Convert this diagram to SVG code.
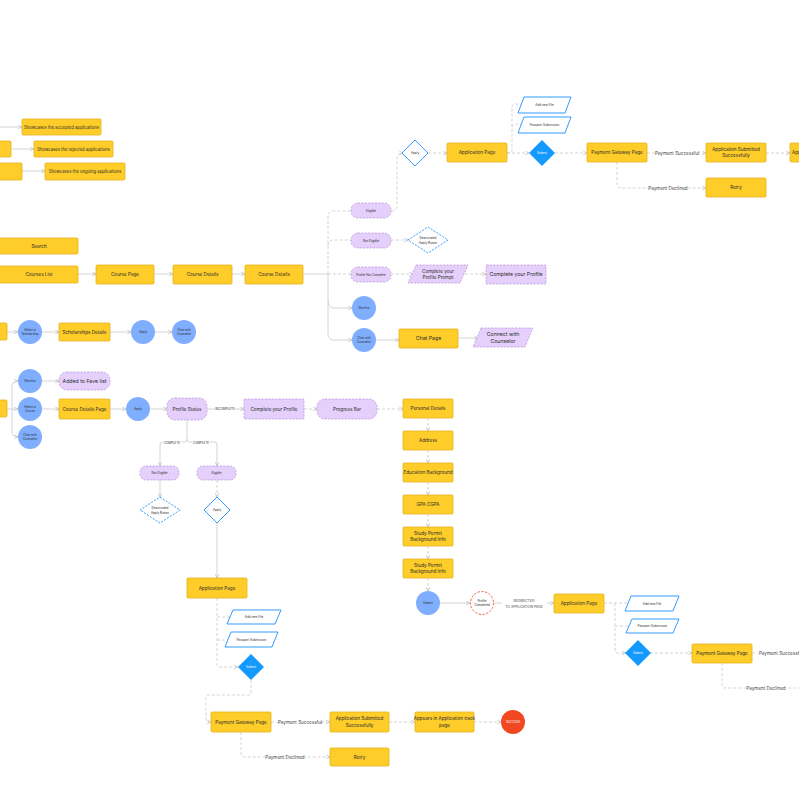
<svg xmlns="http://www.w3.org/2000/svg" width="799" height="799" viewBox="0 0 799 799">
<style>
text{font-family:Inter,"Liberation Sans",sans-serif;fill:#2b2b2b;text-anchor:middle}
.t{font-size:4.6px}
.tm{font-size:4.2px}
.tl{font-size:5.2px}
.ts{font-size:3px}
.tw{fill:#fff}
.lab{font-size:4.6px;fill:#444}
.lab2{font-size:3.4px;fill:#444}
.y{fill:#FFCD29;stroke:#E3B21F;stroke-width:0.8}
.p{fill:#E4D0FA;stroke:#B48CD9;stroke-width:0.7;stroke-dasharray:2 1.4}
.c{fill:#80AEFF}
.bo{fill:#fff;stroke:#1E90FF;stroke-width:0.9}
.bd{fill:#fff;stroke:#1E90FF;stroke-width:0.9;stroke-dasharray:2 1.4}
.bf{fill:#1499FF}
.l{fill:none;stroke:#CFCFCF;stroke-width:0.9}
.d{stroke-dasharray:3 2}
.a{marker-end:url(#ar)}
.bg{fill:#fff}
</style>
<defs>
<marker id="ar" viewBox="0 0 6 6" refX="5.5" refY="3" markerWidth="5" markerHeight="5" orient="auto" markerUnits="userSpaceOnUse">
<path d="M1 0.8 L5.5 3 L1 5.2" fill="none" stroke="#BDBDBD" stroke-width="0.9"/>
</marker>
</defs>
<rect width="799" height="799" fill="#fff"/>

<g id="connectors">
<path class="l a" d="M0 127 H22"/>
<path class="l a" d="M11 149 H34"/>
<path class="l a" d="M22 171 H45"/>
<path class="l a" d="M78 274 H96"/>
<path class="l a" d="M154 274 H173"/>
<path class="l a" d="M232 274 H245"/>
<path class="l" d="M303 274 H328"/>
<path class="l a" d="M328 274 V334 q0 6 6 6 H352"/>
<path class="l a" d="M328 300 q0 8 6 8 H352"/>
<path class="l d" d="M328 274 V217 q0 -6 6 -6 H351"/>
<path class="l d" d="M328 246 q0 -6 6 -6 H351"/>
<path class="l d" d="M328 274 H351"/>
<path class="l d a" d="M391 211 q6 0 6 -6 V159 q0 -6 6 -6"/>
<path class="l d a" d="M391 240 H408"/>
<path class="l d a" d="M391 274 H413"/>
<path class="l d a" d="M465 274 H486"/>
<path class="l a" d="M376 340 H399"/>
<path class="l a" d="M458 338 H478"/>

<path class="l d a" d="M428 153 H447"/>
<path class="l d" d="M507 153 H509 q3 0 3 -3 V107 q0 -3 3 -3 H521"/>
<path class="l d" d="M512 127 q0 -3 3 -3 H521"/>
<path class="l d a" d="M507 153 H529"/>
<path class="l d a" d="M555 153 H587"/>
<path class="l d a" d="M647 153 H706"/>
<path class="l d a" d="M766 153 H790"/>
<path class="l d a" d="M617 162 V184 q0 4 4 4 H706"/>

<path class="l a" d="M7 332 H18"/>
<path class="l a" d="M42 332 H59"/>
<path class="l a" d="M110 332 H131"/>
<path class="l a" d="M155 332 H172"/>

<path class="l a" d="M7 409 H18"/>
<path class="l a" d="M12 409 V387 q0 -6 6 -6"/>
<path class="l a" d="M12 409 V431 q0 6 6 6"/>
<path class="l a" d="M42 381 H59"/>
<path class="l a" d="M42 409 H59"/>
<path class="l a" d="M110 409 H126"/>
<path class="l a" d="M150 409 H167"/>
<path class="l a" d="M207 409 H244"/>
<path class="l d a" d="M304 409 H317"/>
<path class="l d a" d="M377 409 H403"/>
<path class="l d a" d="M428 418 V431"/>
<path class="l d a" d="M428 450 V463"/>
<path class="l d a" d="M428 482 V495"/>
<path class="l d a" d="M428 514 V527"/>
<path class="l d a" d="M428 546 V559"/>
<path class="l d a" d="M428 578 V591"/>
<path class="l a" d="M440 603 H470"/>
<path class="l a" d="M494 603 H554"/>

<path class="l d" d="M604 603 H628"/>
<path class="l d a" d="M615 603 V650 q0 3 3 3 H626"/>
<path class="l d" d="M615 626 H629"/>
<path class="l d a" d="M650 653 H692"/>
<path class="l d" d="M752 653 H799"/>
<path class="l d" d="M722 663 V685 q0 3 3 3 H799"/>

<path class="l" d="M187 420 V439"/>
<path class="l a" d="M187 439 q0 3 -3 3 H163 q-3 0 -3 3 V466"/>
<path class="l a" d="M187 439 q0 3 3 3 H214 q3 0 3 3 V466"/>
<path class="l a" d="M160 480 V497"/>
<path class="l d a" d="M217 480 V497"/>
<path class="l a" d="M217 523 V578"/>
<path class="l d a" d="M217 598 V664 q0 3 3 3 H238"/>
<path class="l d" d="M217 617 H231"/>
<path class="l d" d="M217 640 H229"/>
<path class="l d a" d="M251 680 V692 q0 3 -3 3 H209 q-3 0 -3 3 V719 q0 3 3 3 H211"/>
<path class="l d a" d="M271 722 H330"/>
<path class="l d a" d="M389 722 H415"/>
<path class="l d a" d="M474 722 H501"/>
<path class="l d a" d="M241 732 V753 q0 4 4 4 H330"/>

<rect class="bg" x="656" y="149" width="42" height="8"/>
<text class="lab" x="677" y="154.6">Payment Successful</text>
<rect class="bg" x="649" y="184" width="39" height="8"/>
<text class="lab" x="668" y="189.6">Payment Declined</text>
<rect class="bg" x="215" y="406" width="20" height="6"/>
<text class="ts" x="225" y="410">INCOMPLETE</text>
<rect class="bg" x="163" y="440" width="18" height="5"/>
<text class="ts" x="172" y="443.8">COMPLETE</text>
<rect class="bg" x="192" y="440" width="18" height="5"/>
<text class="ts" x="201" y="443.8">COMPLETE</text>
<rect class="bg" x="502" y="596" width="45" height="13"/>
<text class="lab2" x="524" y="601.5">REDIRECTED</text>
<text class="lab2" x="524" y="607.5">TO APPLICATION PAGE</text>
<rect class="bg" x="758" y="649" width="41" height="8"/>
<text class="lab" x="781" y="654.6">Payment Successful</text>
<rect class="bg" x="746" y="684" width="40" height="8"/>
<text class="lab" x="766" y="689.6">Payment Declined</text>
<rect class="bg" x="279" y="718" width="42" height="8"/>
<text class="lab" x="300" y="723.6">Payment Successful</text>
<rect class="bg" x="265" y="753" width="40" height="8"/>
<text class="lab" x="285" y="758.6">Payment Declined</text>
</g>

<g id="n-accepted"><rect class="y" x="22" y="119" width="79" height="16" rx="1"/><text class="tm" x="61.5" y="128.5">Showcases the accepted applications</text></g>
<g id="n-rejected-src"><rect class="y" x="-20" y="141" width="31" height="16" rx="1"/></g>
<g id="n-rejected"><rect class="y" x="34" y="141" width="79" height="16" rx="1"/><text class="tm" x="73.5" y="150.5">Showcases the rejected applications</text></g>
<g id="n-ongoing-src"><rect class="y" x="-20" y="163" width="42" height="17" rx="1"/></g>
<g id="n-ongoing"><rect class="y" x="45" y="163" width="80" height="17" rx="1"/><text class="tm" x="85" y="173">Showcases the ongoing applications</text></g>

<g id="n-search"><rect class="y" x="-5" y="238" width="83" height="16" rx="1"/><text class="t" x="39" y="247.6">Search</text></g>
<g id="n-courses-list"><rect class="y" x="-5" y="266" width="83" height="17" rx="1"/><text class="t" x="39" y="276.1">Courses List</text></g>
<g id="n-course-page"><rect class="y" x="96" y="265" width="58" height="19" rx="1"/><text class="t" x="125" y="276.1">Course Page</text></g>
<g id="n-course-details1"><rect class="y" x="173" y="265" width="59" height="19" rx="1"/><text class="t" x="202.5" y="276.1">Course Details</text></g>
<g id="n-course-details2"><rect class="y" x="245" y="265" width="58" height="19" rx="1"/><text class="t" x="274" y="276.1">Course Details</text></g>

<g id="n-eligible-top"><rect class="p" x="351" y="203" width="40" height="15" rx="7"/><text class="ts" x="371" y="212">Eligible</text></g>
<g id="n-noteligible-top"><rect class="p" x="351" y="233" width="40" height="15" rx="7"/><text class="ts" x="371" y="241.5">Not Eligible</text></g>
<g id="n-deact-top"><polygon class="bd" points="428,227 448,240 428,253 408,240"/><text class="ts" x="428" y="239">Deactivated</text><text class="ts" x="428" y="243.5">Apply Button</text></g>
<g id="n-pnc"><rect class="p" x="351" y="267" width="40" height="15" rx="7"/><text class="ts" x="371" y="275.5">Profile Not Complete</text></g>
<g id="n-prompt"><polygon class="p" points="416,265 468,265 460,283 408,283"/><text class="t" x="438" y="272.5">Complete your</text><text class="t" x="438" y="278.8">Profile Prompt</text></g>
<g id="n-cyp-top"><rect class="p" x="486" y="265" width="60" height="19" rx="0.5"/><text class="tl" x="516" y="276.3">Complete your Profile</text></g>
<g id="n-shortlist-top"><circle class="c" cx="364" cy="308" r="12"/><text class="ts" x="364" y="309">Shortlist</text></g>
<g id="n-chat-top"><circle class="c" cx="364" cy="340" r="12"/><text class="ts" x="364" y="338.6">Chat with</text><text class="ts" x="364" y="342.6">Counselor</text></g>
<g id="n-chat-page"><rect class="y" x="399" y="329" width="59" height="19" rx="1"/><text class="tl" x="428.5" y="340.3">Chat Page</text></g>
<g id="n-connect"><polygon class="p" points="481,328 533,328 525,347 473,347"/><text class="tl" x="503" y="336">Connect with</text><text class="tl" x="503" y="342.5">Counselor</text></g>

<g id="n-apply-top"><polygon class="bo" points="415,140 428,153 415,166 402,153"/><text class="ts" x="415" y="154">Apply</text></g>
<g id="n-apppage-top"><rect class="y" x="447" y="143" width="60" height="19" rx="1"/><text class="t" x="477" y="154.1">Application Page</text></g>
<g id="n-addfile-top"><polygon class="bo" points="524,97 571,97 565,113 518,113"/><text class="ts" x="544.5" y="106">Add new File</text></g>
<g id="n-passport-top"><polygon class="bo" points="524,117 571,117 565,133 518,133"/><text class="ts" x="544.5" y="126">Passport Submission</text></g>
<g id="n-submit-top"><polygon class="bf" points="542,140 555,153 542,166 529,153"/><text class="ts tw" x="542" y="154">Submit</text></g>
<g id="n-pgp-top"><rect class="y" x="587" y="143" width="60" height="19" rx="1"/><text class="t" x="617" y="154.1">Payment Gateway Page</text></g>
<g id="n-appsub-top"><rect class="y" x="706" y="143" width="60" height="19" rx="1"/><text class="t" x="736" y="151">Application Submitted</text><text class="t" x="736" y="157.3">Successfully</text></g>
<g id="n-appears-top"><rect class="y" x="790" y="143" width="60" height="19" rx="1"/><text class="t" x="792" y="154.1" style="text-anchor:start">Appears in Application track</text></g>
<g id="n-retry-top"><rect class="y" x="706" y="178" width="60" height="19" rx="1"/><text class="t" x="736" y="189.1">Retry</text></g>

<g id="n-schol-src"><rect class="y" x="-20" y="323" width="27" height="17" rx="1"/></g>
<g id="n-select-schol"><circle class="c" cx="30" cy="332" r="12"/><text class="ts" x="30" y="330.6">Select a</text><text class="ts" x="30" y="334.6">Scholarship</text></g>
<g id="n-schol-details"><rect class="y" x="59" y="323" width="51" height="18" rx="1"/><text class="t" x="84.5" y="333.6">Scholarships Details</text></g>
<g id="n-apply-schol"><circle class="c" cx="143" cy="332" r="12"/><text class="ts" x="143" y="333">Apply</text></g>
<g id="n-chat-schol"><circle class="c" cx="184" cy="332" r="12"/><text class="ts" x="184" y="330.6">Chat with</text><text class="ts" x="184" y="334.6">Counselor</text></g>

<g id="n-course-src"><rect class="y" x="-20" y="400" width="27" height="17" rx="1"/></g>
<g id="n-shortlist"><circle class="c" cx="30" cy="381" r="12"/><text class="ts" x="30" y="382">Shortlist</text></g>
<g id="n-select-course"><circle class="c" cx="30" cy="409" r="12"/><text class="ts" x="30" y="407.6">Select a</text><text class="ts" x="30" y="411.6">Course</text></g>
<g id="n-chat-course"><circle class="c" cx="30" cy="437" r="12"/><text class="ts" x="30" y="435.6">Chat with</text><text class="ts" x="30" y="439.6">Counselor</text></g>
<g id="n-fave"><rect class="p" x="59" y="372" width="51" height="18" rx="8"/><text class="tl" x="84.5" y="382.8">Added to Fave list</text></g>
<g id="n-cdp"><rect class="y" x="59" y="399" width="51" height="20" rx="1"/><text class="t" x="84.5" y="410.6">Course Details Page</text></g>
<g id="n-apply-course"><circle class="c" cx="138" cy="409" r="12"/><text class="ts" x="138" y="410">Apply</text></g>
<g id="n-profile-status"><rect class="p" x="167" y="398" width="40" height="22" rx="8"/><text class="t" x="187" y="410.6">Profile Status</text></g>
<g id="n-cyp"><rect class="p" x="244" y="399" width="60" height="20" rx="0.5"/><text class="t" x="274" y="410.6">Complete your Profile</text></g>
<g id="n-progress"><rect class="p" x="317" y="399" width="60" height="20" rx="8"/><text class="t" x="347" y="410.6">Progress Bar</text></g>
<g id="n-personal"><rect class="y" x="403" y="399" width="50" height="19" rx="1"/><text class="t" x="428" y="410.1">Personal Details</text></g>
<g id="n-address"><rect class="y" x="403" y="431" width="50" height="19" rx="1"/><text class="t" x="428" y="442.1">Address</text></g>
<g id="n-education"><rect class="y" x="403" y="463" width="50" height="19" rx="1"/><text class="t" x="428" y="474.1">Education Background</text></g>
<g id="n-gpa"><rect class="y" x="403" y="495" width="50" height="19" rx="1"/><text class="t" x="428" y="506.1">GPA CGPA</text></g>
<g id="n-permit1"><rect class="y" x="403" y="527" width="50" height="19" rx="1"/><text class="t" x="428" y="535">Study Permit</text><text class="t" x="428" y="541.3">Background Info</text></g>
<g id="n-permit2"><rect class="y" x="403" y="559" width="50" height="19" rx="1"/><text class="t" x="428" y="567">Study Permit</text><text class="t" x="428" y="573.3">Background Info</text></g>
<g id="n-submit-circle"><circle class="c" cx="428" cy="603" r="12"/><text class="ts" x="428" y="604">Submit</text></g>
<g id="n-profile-completed"><circle cx="482" cy="603" r="11.5" fill="#fff" stroke="#F24822" stroke-width="0.9" stroke-dasharray="2.2 1.6"/><text class="ts" x="482" y="601.6">Profile</text><text class="ts" x="482" y="605.6">Completed</text></g>
<g id="n-apppage-r"><rect class="y" x="554" y="594" width="50" height="19" rx="1"/><text class="t" x="579" y="605.1">Application Page</text></g>
<g id="n-addfile-r"><polygon class="bo" points="631,596 679,596 673,611 625,611"/><text class="ts" x="652" y="604.6">Add new File</text></g>
<g id="n-passport-r"><polygon class="bo" points="632,619 679,619 673,633 626,633"/><text class="ts" x="652.5" y="627">Passport Submission</text></g>
<g id="n-submit-r"><polygon class="bf" points="638,640 651,653 638,666 625,653"/><text class="ts tw" x="638" y="654">Submit</text></g>
<g id="n-pgp-r"><rect class="y" x="692" y="644" width="60" height="19" rx="1"/><text class="t" x="722" y="655.1">Payment Gateway Page</text></g>

<g id="n-noteligible"><rect class="p" x="140" y="466" width="39" height="14" rx="6"/><text class="ts" x="159.5" y="474">Not Eligible</text></g>
<g id="n-eligible"><rect class="p" x="197" y="466" width="39" height="14" rx="6"/><text class="ts" x="216.5" y="474">Eligible</text></g>
<g id="n-deact"><polygon class="bd" points="160,497 180,510 160,523 140,510"/><text class="ts" x="160" y="509">Deactivated</text><text class="ts" x="160" y="513.5">Apply Button</text></g>
<g id="n-apply-d"><polygon class="bo" points="217,497 230,510 217,523 204,510"/><text class="ts" x="217" y="511">Apply</text></g>
<g id="n-apppage-l"><rect class="y" x="187" y="578" width="60" height="20" rx="1"/><text class="t" x="217" y="589.6">Application Page</text></g>
<g id="n-addfile-l"><polygon class="bo" points="233,610 281,610 275,624 227,624"/><text class="ts" x="254" y="618">Add new File</text></g>
<g id="n-passport-l"><polygon class="bo" points="231,632 278,632 272,647 225,647"/><text class="ts" x="251.5" y="640.5">Passport Submission</text></g>
<g id="n-submit-l"><polygon class="bf" points="251,654 264,667 251,680 238,667"/><text class="ts tw" x="251" y="668">Submit</text></g>
<g id="n-pgp-l"><rect class="y" x="211" y="712" width="60" height="20" rx="1"/><text class="t" x="241" y="723.6">Payment Gateway Page</text></g>
<g id="n-appsub-l"><rect class="y" x="330" y="712" width="59" height="20" rx="1"/><text class="t" x="359.5" y="720.3">Application Submitted</text><text class="t" x="359.5" y="726.6">Successfully</text></g>
<g id="n-appears-l"><rect class="y" x="415" y="712" width="59" height="20" rx="1"/><text class="t" x="444.5" y="720.3">Appears in Application track</text><text class="t" x="444.5" y="726.6">page</text></g>
<g id="n-success"><circle cx="513" cy="722" r="12" fill="#F24822"/><text class="ts tw" x="513" y="723">SUCCESS</text></g>
<g id="n-retry-l"><rect class="y" x="330" y="748" width="59" height="18" rx="1"/><text class="t" x="359.5" y="758.6">Retry</text></g>
</svg>
